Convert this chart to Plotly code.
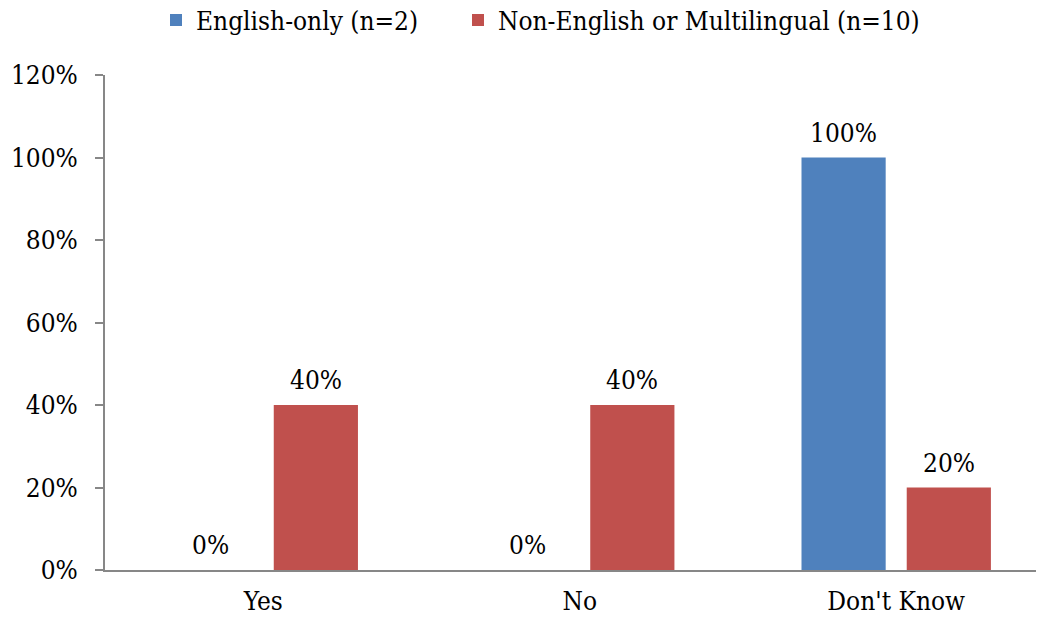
import plotly.graph_objects as go

categories = ["Yes", "No", "Don't Know"]
english_only = [0, 0, 100]
non_english = [40, 40, 20]
series_names = ["English-only (n=2)", "Non-English or Multilingual (n=10)"]
y_ticks = [0, 20, 40, 60, 80, 100, 120]
y_tick_labels = [f"{v}%" for v in y_ticks]

FONT = "DejaVu Serif Condensed"
SIZE = 26
COLORS = ["#4F81BD", "#C0504D"]

fig = go.Figure()
for i, (name, vals, col) in enumerate(zip(series_names, [english_only, non_english], COLORS)):
    fig.add_trace(go.Bar(
        x=categories, y=vals, name=name,
        marker=dict(color=col, line=dict(width=0)),
        legend="legend" if i == 0 else "legend2",
    ))

BARGAP = 0.335
slot = (1 - BARGAP) / 2
for si, vals in enumerate([english_only, non_english]):
    off = (si - 0.5) * slot
    for ci, v in enumerate(vals):
        fig.add_annotation(
            x=ci + off, y=v, xref="x", yref="y", text=f"{v}%",
            showarrow=False, yanchor="middle", yshift=25,
            font=dict(family=FONT, size=SIZE, color="black"),
        )

W, H = 1036, 611
T, B = 67, 49
plot_h = H - T - B
leg_y = 1 + (T - 12) / plot_h
leg_common = dict(orientation="h", xanchor="left", yanchor="middle",
                  xref="container", yref="paper", y=leg_y,
                  font=dict(family=FONT, size=SIZE), itemwidth=30,
                  bgcolor="rgba(0,0,0,0)")
fig.update_layout(
    width=W, height=H,
    margin=dict(l=97, r=0, t=T, b=B, autoexpand=False),
    paper_bgcolor="white", plot_bgcolor="white",
    font=dict(family=FONT, size=SIZE, color="black"),
    barmode="group", bargap=BARGAP, bargroupgap=0.2,
    showlegend=True,
    legend=dict(x=(156 - 8) / W, **leg_common),
    legend2=dict(x=(458 - 8) / W, **leg_common),
)
fig.update_xaxes(
    type="category", range=[-0.5, 2.467],
    showline=True, linecolor="#878787", linewidth=2,
    ticks="", showgrid=False, tickfont=dict(family=FONT, size=SIZE),
    ticklabelstandoff=7,
)
fig.update_yaxes(
    range=[0, 120], tickvals=y_ticks, ticktext=y_tick_labels,
    showline=True, linecolor="#878787", linewidth=2,
    ticks="outside", ticklen=8, tickcolor="#878787", tickwidth=2,
    showgrid=False, zeroline=False, tickfont=dict(family=FONT, size=SIZE),
    ticklabelstandoff=12,
)

fig.write_html("out.html")
